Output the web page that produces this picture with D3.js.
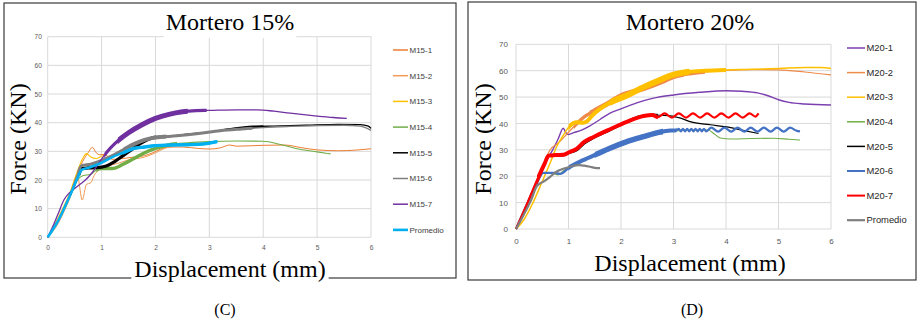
<!DOCTYPE html>
<html>
<head>
<meta charset="utf-8">
<script src="https://cdnjs.cloudflare.com/ajax/libs/d3/7.8.5/d3.min.js"></script>
<style>
body { margin: 0; background: #fff; }
svg { display: block; }
</style>
</head>
<body>
<div id="chart"></div>
<script>
// Axis ticks shared by both panels
var xTicks = [0, 1, 2, 3, 4, 5, 6]
var yTicks = [0, 10, 20, 30, 40, 50, 60, 70]

// ---- Mortero 15% : displacement (mm), force (kN)
var names15 = ["M15-1", "M15-2", "M15-3", "M15-4", "M15-5", "M15-6", "M15-7", "Promedio"]

var m15_1 = [[0,0],[0.2,6],[0.4,14],[0.55,22],[0.65,26.5],[0.75,29.5],[0.83,31.4],[0.9,29.5],[0.97,28.8],[1.05,28.9],
	[1.2,27.2],[1.4,27.5],[1.6,28],[1.8,28.5],[1.95,29.5],[2.1,30.8],[2.25,31.5],[2.5,31.5],[2.8,31],[3.0,30.8],
	[3.2,31.2],[3.38,32.2],[3.5,31.8],[4.0,32.1],[4.4,32.2],[4.7,31.3],[5.0,30.5],[5.4,30.2],[5.7,30.4],[6.0,30.9]]
var m15_2 = [[0,0],[0.2,5],[0.35,11],[0.42,14],[0.5,19],[0.56,20.5],[0.64,13],[0.72,18.5],[0.8,19],[0.86,21.5],
	[0.95,23.5],[1.1,24.8],[1.3,25.8],[1.5,27],[1.8,28],[2.0,29.5],[2.2,31.2],[2.3,31.5]]
var m15_3 = [[0,0],[0.2,7],[0.4,15],[0.55,23],[0.65,27.5],[0.72,29.2],[0.8,28],[0.9,27.5],[1.0,28.3],[1.1,29]]
var m15_4 = [[0,0],[0.2,6],[0.4,14],[0.55,20],[0.65,21.5],[0.8,22],[0.9,23.5],[1.0,24],[1.2,24],[1.4,25.5],
	[1.6,27.5],[1.8,29.5],[2.0,31],[2.3,32.5],[2.6,33],[3.0,33.4],[3.5,33.6],[4.0,33.5],[4.3,32.5],[4.6,31],
	[5.0,29.8],[5.25,29.1]]
var m15_5 = [[0,0],[0.1,3],[0.2,6],[0.3,10],[0.4,14],[0.5,18],[0.58,22],[0.63,24],[0.75,24.2],[0.9,24.3],
	[1.0,24.5],[1.1,25],[1.25,26.5],[1.4,28.5],[1.55,30.5],[1.7,32.5],[1.85,34],[2.0,35],[2.3,35.3],[2.6,36],
	[3.0,36.7],[3.4,37.8],[3.8,38.6],[4.2,38.8],[4.8,39.1],[5.4,39.4],[5.8,39.3],[5.95,38.8],[6.0,38]]
var m15_6 = [[0,0],[0.2,6],[0.4,14],[0.55,22],[0.63,25],[0.8,25.5],[1.0,26.8],[1.2,28.5],[1.4,30.5],[1.6,32.5],
	[1.8,34],[2.0,34.8],[2.4,35.4],[2.8,36.2],[3.2,37.2],[3.6,37.8],[4.0,38.3],[4.5,38.7],[5.0,39],[5.5,39.1],
	[5.8,38.8],[6.0,37.3]]
var m15_7 = [[0,0],[0.1,4],[0.2,8.5],[0.3,13],[0.4,15.5],[0.5,17],[0.6,18.5],[0.7,20],[0.8,22],[0.9,24.5],
	[1.0,27.3],[1.1,29.8],[1.25,32.8],[1.5,36.5],[1.75,39.3],[2.0,41.5],[2.25,42.9],[2.5,43.8],[2.75,44.2],
	[3.0,44.3],[3.5,44.5],[3.9,44.5],[4.2,44],[4.5,43.3],[5.0,42.3],[5.3,41.8],[5.55,41.5]]
var m15_avg = [[0,0],[0.2,6],[0.4,14],[0.55,20.5],[0.63,23.5],[0.8,24.5],[1.0,26],[1.2,28],[1.4,29.5],[1.6,31],
	[1.8,31.5],[2.0,32],[2.3,32.2],[2.6,32.3],[2.9,32.6],[3.15,33.4]]

// ---- Mortero 20%
var names20 = ["M20-1", "M20-2", "M20-3", "M20-4", "M20-5", "M20-6", "M20-7", "Promedio"]

var m20_1 = [[0,0],[0.2,9],[0.4,18],[0.55,25],[0.7,30],[0.8,34],[0.9,38.2],[0.95,36.5],[1.0,35.8],[1.1,36.5],
	[1.25,37.5],[1.4,39],[1.6,41.5],[1.8,44],[2.0,45.5],[2.3,47.8],[2.6,49.5],[3.0,50.8],[3.5,51.8],[4.0,52.4],
	[4.3,52.2],[4.6,51.6],[4.8,50.5],[5.0,49],[5.2,48],[5.5,47.4],[6.0,47]]
var m20_2 = [[0,0],[0.2,8.5],[0.4,18],[0.55,26],[0.65,30],[0.8,32.5],[0.97,36],[1.16,40],[1.3,42.5],[1.47,44.5],
	[1.7,47],[2.0,50.5],[2.4,53],[2.8,56],[3.0,57.8],[3.5,59.3],[4.0,60.1],[4.5,60.4],[5.0,60.3],[5.5,59.5],[6.0,58.4]]
var m20_3 = [[0,0],[0.15,3.5],[0.3,9],[0.5,18],[0.65,25],[0.77,31],[0.9,35.5],[1.03,39.2],[1.15,40.5],[1.28,40.3],
	[1.35,40.8],[1.45,43],[1.6,45.5],[1.8,48],[2.1,50.5],[2.4,53.5],[2.74,56.5],[3.0,58.5],[3.3,59.6],[3.6,60],
	[4.0,60.3],[4.5,60.5],[5.0,60.8],[5.5,61.2],[5.8,61.2],[6.0,60.8]]
var m20_4 = [[0,0],[0.2,9],[0.4,17.5],[0.5,21.3],[0.65,21.3],[0.8,20.5],[0.9,22],[1.05,23.8],[1.3,26.2],[1.6,28.8],
	[1.9,31.2],[2.2,33.5],[2.5,35.3],[2.8,36.7],[3.1,37.3],[3.4,37.6],[3.66,37.5],[3.78,36],[3.89,34.5],[4.1,34.1],
	[4.5,34.3],[4.9,34.4],[5.2,34],[5.41,33.7]]
var m20_5 = [[0,0],[0.2,9],[0.4,18.5],[0.55,25],[0.62,27.8],[0.75,28],[0.9,28],[1.0,28.8],[1.16,30],[1.3,32.5],
	[1.47,34.5],[1.79,37.5],[2.11,40.6],[2.36,42.6],[2.6,43.2],[2.9,43],[3.1,42.2],[3.35,40.5],[3.7,39.5],
	[4.01,38.7],[4.3,37.5],[4.62,36.2]]
var m20_6 = [[0,0],[0.2,9],[0.4,17.5],[0.52,21.3],[0.74,21.3],[0.84,20.9],[1.03,23.6],[1.28,26.1],[1.55,28.5],
	[1.79,30.6],[2.1,33],[2.43,35],[2.74,36.7],[2.95,37.3],[3.06,37.4],
	[3.1,38],[3.14,37],[3.18,38],[3.22,37],[3.26,38],[3.3,37],[3.34,38],[3.38,37],[3.42,38],[3.46,37],[3.5,38],
	[3.54,37],[3.58,38],[3.62,37],[3.72,38.4],[3.85,36.9],[3.97,38.4],[4.1,36.9],[4.22,38.4],[4.35,36.9],
	[4.47,38.4],[4.6,36.9],[4.72,38.4],[4.85,36.9],[4.97,38.4],[5.1,36.9],[5.22,38.4],[5.35,37.2],[5.41,37]]
var m20_7 = [[0,0],[0.2,9],[0.4,18.5],[0.55,25],[0.62,27.8],[0.75,28],[0.9,28.1],[1.0,29],[1.16,30.5],[1.3,33],
	[1.47,34.8],[1.79,37.8],[2.11,40.6],[2.43,42.8],[2.6,43.2],[2.7,42.4],[2.83,43.8],[2.97,42.2],[3.1,43.8],
	[3.24,42.2],[3.37,43.8],[3.51,42.2],[3.64,43.8],[3.78,42.2],[3.91,43.8],[4.05,42.2],[4.18,43.8],[4.32,42.2],
	[4.45,43.8],[4.56,42.6],[4.62,43.8]]
var m20_avg = [[0,0],[0.15,5.5],[0.3,11.5],[0.39,16],[0.45,17.2],[0.52,17.9],[0.65,19.8],[0.77,21.7],[0.9,22.8],
	[1.03,23.6],[1.2,24.2],[1.3,24],[1.41,23.6],[1.5,23.2],[1.6,23.1]]

// Line styles: colour, base stroke and the noisy stretches drawn heavier [from, to, width]
var colors15 = ["#ED7D31", "#F39A55", "#FFC000", "#70AD47", "#000000", "#7F7F7F", "#7030A0", "#00B0F0"]
var widths15 = [1, 1, 1.1, 1.1, 1.3, 1.3, 1.3, 2.6]
var bands15 = [null, null, null, [[0.9, 2.4, 3.5]], [[0.6, 2.0, 3.2], [3.2, 4.0, 2.2]],
	[[0.55, 3.8, 3], [1.4, 2.2, 4]], [[1.05, 2.95, 3.2], [1.3, 2.6, 5]], [[1.4, 3.15, 3.4]]]
var legendW15 = [1.5, 1.5, 1.5, 1.5, 1.5, 1.5, 1.5, 2.6]

var colors20 = ["#7B3FB0", "#EE8A4A", "#FFC000", "#70AD47", "#000000", "#4472C4", "#FF0000", "#7F7F7F"]
var widths20 = [1.4, 1.2, 1.5, 1.1, 1.2, 2.2, 2.2, 2.2]
var bands20 = [null, [[1.1, 3.6, 3.5], [1.4, 3.2, 5]], [[1.0, 4.0, 4], [1.8, 3.3, 6]], null, [[0.6, 2.7, 2.6]],
	[[1.0, 3.06, 4], [1.5, 2.8, 5.5]], [[0.4, 2.7, 4]], null]
var legendW20 = [1.5, 1.5, 1.5, 1.5, 1.5, 2, 2, 2.2]

var serif = "'Liberation Serif', 'Times New Roman', Times, serif"
var sans = "'Liberation Sans', Arial, sans-serif"

var svg = d3.select("#chart")
	.append("svg")
	.attr("width", 924)
	.attr("height", 325)

var defs = svg.append("defs")

// Label with a white backing box, which breaks the frame / grid behind it
function boxedLabel(g, txt, transform, size, padX, padY) {
	var lg = g.append("g").attr("transform", transform)
	var t = lg.append("text")
		.style("font-family", serif)
		.attr("fill", "#000")
		.attr("text-anchor", "middle")
		.attr("font-size", size)
		.text(txt)
	var bb = t.node().getBBox()
	lg.insert("rect", "text")
		.attr("x", bb.x - padX)
		.attr("y", bb.y - padY)
		.attr("width", bb.width + 2 * padX)
		.attr("height", bb.height + 2 * padY)
		.attr("fill", "#fff")
}

function drawPanel(p) {
	var g = svg.append("g")

	// panel frame
	g.append("rect")
		.attr("x", p.frame[0])
		.attr("y", p.frame[1])
		.attr("width", p.frame[2] - p.frame[0])
		.attr("height", p.frame[3] - p.frame[1])
		.attr("fill", "none")
		.attr("stroke", "#3a3a3a")
		.attr("stroke-width", 1.2)

	var xScale = d3.scaleLinear().domain([0, 6]).range([p.left, p.right])
	var yScale = d3.scaleLinear().domain([0, 70]).range([p.bottom, p.top])

	// gridlines
	g.append("g").selectAll("line")
		.data(xTicks)
		.enter()
		.append("line")
		.attr("x1", d => xScale(d)).attr("x2", d => xScale(d))
		.attr("y1", yScale(0)).attr("y2", yScale(70))
		.attr("stroke", "#d9d9d9")
	g.append("g").selectAll("line")
		.data(yTicks)
		.enter()
		.append("line")
		.attr("x1", xScale(0)).attr("x2", xScale(6))
		.attr("y1", d => yScale(d)).attr("y2", d => yScale(d))
		.attr("stroke", "#d9d9d9")

	// tick labels
	var yAxis = g.append("g")
		.attr("transform", `translate(${p.left},0)`)
		.call(d3.axisLeft(yScale).tickValues(yTicks).tickFormat(d3.format("d")).tickSize(0).tickPadding(p.yPad))
	var xAxis = g.append("g")
		.attr("transform", `translate(0,${p.bottom})`)
		.call(d3.axisBottom(xScale).tickValues(xTicks).tickFormat(d3.format("d")).tickSize(0).tickPadding(p.xPad))
	;[yAxis, xAxis].forEach(function(a) {
		a.select(".domain").remove()
		a.attr("font-family", sans)
			.attr("font-size", p.tickSize)
		a.selectAll("text").attr("fill", "#595959")
	})

	// curves
	var line = d3.line()
		.x(d => xScale(d[0]))
		.y(d => yScale(d[1]))
		.curve(d3.curveMonotoneX)

	p.curves.forEach(function(pts, i) {
		g.append("path")
			.attr("d", line(pts))
			.attr("fill", "none")
			.attr("stroke", p.colors[i])
			.attr("stroke-width", p.widths[i])
			.attr("stroke-linejoin", "round")
		if (!p.bands[i]) return
		p.bands[i].forEach(function(b, j) {
			var id = `${p.id}-band-${i}-${j}`
			defs.append("clipPath").attr("id", id)
				.append("rect")
				.attr("x", xScale(b[0]))
				.attr("width", xScale(b[1]) - xScale(b[0]))
				.attr("y", p.top - 10)
				.attr("height", p.bottom - p.top + 20)
			g.append("path")
				.attr("d", line(pts))
				.attr("fill", "none")
				.attr("stroke", p.colors[i])
				.attr("stroke-width", b[2])
				.attr("stroke-linejoin", "round")
				.attr("clip-path", `url(#${id})`)
		})
	})

	// legend
	var leg = g.append("g").selectAll("g")
		.data(p.names)
		.enter()
		.append("g")
		.attr("transform", (d, i) => `translate(0,${p.legY + i * p.legDy})`)
	leg.append("line")
		.attr("x1", p.legX).attr("x2", p.legX + p.legLen)
		.attr("stroke", (d, i) => p.colors[i])
		.attr("stroke-width", (d, i) => p.legendW[i])
	leg.append("text")
		.attr("x", p.legX + p.legLen + 1.5)
		.attr("dy", "0.35em")
		.attr("font-family", sans)
		.attr("font-size", p.legSize)
		.attr("fill", p.legColor)
		.text(d => d)

	// titles
	boxedLabel(g, p.title, `translate(${p.cx},${p.titleY})`, 24, 2, 3)
	boxedLabel(g, "Force (KN)", `translate(${p.forceX},139) rotate(-90)`, 24, 3, 0)
	boxedLabel(g, "Displacement (mm)", `translate(${p.cx},${p.dispY})`, 24, 3, 1)

	g.append("text")
		.style("font-family", serif)
		.attr("fill", "#000")
		.attr("x", p.capX)
		.attr("y", 315)
		.attr("text-anchor", "middle")
		.attr("font-size", 16)
		.text(p.caption)
}

drawPanel({
	id: "m15", title: "Mortero 15%", caption: "(C)",
	frame: [4, 3, 456, 278],
	left: 47.7, right: 371, top: 36.7, bottom: 237.3,
	yPad: 5.8, xPad: 8.4, tickSize: 6.6,
	curves: [m15_1, m15_2, m15_3, m15_4, m15_5, m15_6, m15_7, m15_avg],
	names: names15, colors: colors15, widths: widths15, bands: bands15, legendW: legendW15,
	legX: 393, legLen: 15, legY: 50, legDy: 25.7, legSize: 8, legColor: "#404040",
	cx: 230, titleY: 30, forceX: 26, dispY: 277, capX: 225
})

drawPanel({
	id: "m20", title: "Mortero 20%", caption: "(D)",
	frame: [468, 2, 916, 280],
	left: 516, right: 831, top: 44.3, bottom: 229,
	yPad: 8, xPad: 8.9, tickSize: 8,
	curves: [m20_1, m20_2, m20_3, m20_4, m20_5, m20_6, m20_7, m20_avg],
	names: names20, colors: colors20, widths: widths20, bands: bands20, legendW: legendW20,
	legX: 847, legLen: 18, legY: 48, legDy: 24.6, legSize: 9.4, legColor: "#262626",
	cx: 690, titleY: 29.5, forceX: 491, dispY: 270.5, capX: 692
})
</script>
</body>
</html>
